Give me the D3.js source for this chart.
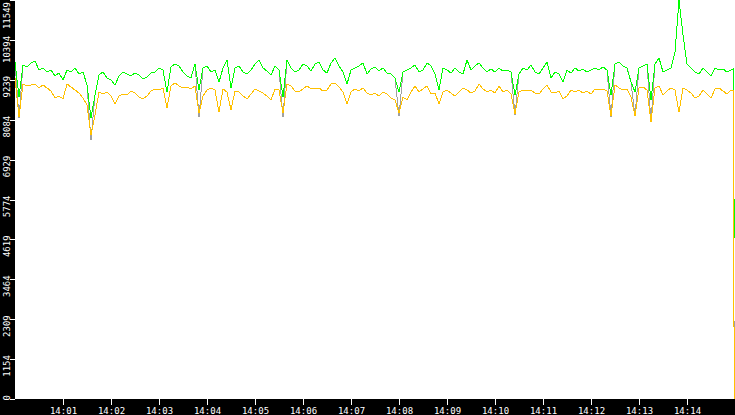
<!DOCTYPE html>
<html>
<head>
<meta charset="utf-8">
<script src="https://cdn.jsdelivr.net/npm/d3@7/dist/d3.min.js"></script>
<style>
  html, body { margin: 0; padding: 0; background: #000; overflow: hidden; }
  svg { display: block; }
  text { font-family: "DejaVu Sans Mono", "Liberation Mono", monospace; font-size: 9px; fill: #fff; }
</style>
</head>
<body>
<script>
// ---- data ----
const startTime = "14:00:00";
const stepSeconds = 5;          // regular sampling step
const regularCount = 180;       // samples at 0,5,...,895 s
const tailSeconds = [898, 899]; // last two samples (final one is the drop)
const yMax = 11549;
const yTickLabels = ["0","1154","2309","3464","4619","5774","6929","8084","9239","10394","11549"];
const xTickLabels = ["14:01","14:02","14:03","14:04","14:05","14:06","14:07","14:08","14:09","14:10","14:11","14:12","14:13","14:14"];

const greenValues = [
9754,8741,9668,9610,9726,9783,9523,9581,9465,9523,9349,9436,9233,9523,9465,9581,9407,9465,9089,8134,
8799,9378,9465,9291,9233,9089,9349,9465,9407,9349,9436,9378,9262,9320,9436,9465,9581,9523,8886,9610,
9697,9639,9465,9349,9291,9697,8944,9581,9639,9465,9523,9176,9581,9812,9002,9581,9639,9465,9407,9523,
9697,9812,9581,9494,9378,9639,9523,8741,9812,9581,9465,9523,9697,9639,9494,9697,9754,9523,9436,9726,
9870,9639,9465,9118,9523,9581,9639,9726,9407,9552,9610,9494,9581,9436,9407,9291,8886,9465,9523,9581,
9668,9465,9523,9726,9639,9407,8944,9581,9523,9436,9581,9465,9407,9812,9523,9639,9726,9581,9465,9552,
9465,9581,9494,9523,9465,8799,9407,9581,9523,9668,9465,9407,9581,9754,9291,9465,9407,9176,9523,9436,
9581,9494,9552,9465,9523,9581,9523,9610,9523,8799,9697,9754,9639,9581,9176,8886,9581,9639,9697,8655,
9697,9870,9465,9523,9581,10044,11549,10536,9697,9581,9465,9407,9581,9465,9349,9581,9523,9552,9465,9523,
9552,4660];

const yellowValues = [
9291,8162,9118,9060,9089,9118,9002,9089,9002,8915,8712,8770,8684,9118,9031,8944,8857,8712,8510,7641,
8220,8886,8828,8886,8770,8539,8770,8828,8799,8915,8857,8741,8684,8770,8915,8973,8944,9002,8423,9060,
9147,9060,9002,9031,8973,9060,8278,8770,8944,9002,8944,8307,8973,8886,8365,8915,8886,8770,8684,8828,
8973,8915,8857,8770,8655,8973,8944,8278,9118,9060,8915,8886,8973,9060,8973,8973,9002,8915,8944,9118,
9147,9031,8886,8539,8886,8973,8915,9002,8857,8799,8857,8770,8886,8828,8712,8655,8278,8741,8655,8886,
9060,8886,8973,9060,8828,8857,8539,8886,8944,8857,8770,8886,9002,8944,8857,8915,9118,8973,8886,8944,
8857,9060,8886,8944,8828,8249,8886,8944,8915,8944,8857,8828,8973,9089,8886,8857,8915,8684,8770,8944,
8886,8944,8857,8915,8828,8973,8944,8973,8915,8191,9089,9002,8944,8973,8741,8191,9002,9031,8944,8018,
9002,9060,8799,8915,9002,8944,8307,9002,8944,8857,8712,8770,8944,8828,8712,8973,9002,8915,8828,8944,
8915,0];

const grayValues = [
9754,8134,9668,9610,9726,9783,9523,9581,9465,9523,9349,9436,9233,9523,9465,9581,9407,9465,9089,7497,
8799,9378,9465,9291,9233,9089,9349,9465,9407,9349,9436,9378,9262,9320,9436,9465,9581,9523,8886,9610,
9697,9639,9465,9349,9291,9697,8162,9581,9639,9465,9523,9176,9581,9812,9002,9581,9639,9465,9407,9523,
9697,9812,9581,9494,9378,9639,9523,8162,9812,9581,9465,9523,9697,9639,9494,9697,9754,9523,9436,9726,
9870,9639,9465,9118,9523,9581,9639,9726,9407,9552,9610,9494,9581,9436,9407,9291,8191,9465,9523,9581,
9668,9465,9523,9726,9639,9407,8944,9581,9523,9436,9581,9465,9407,9812,9523,9639,9726,9581,9465,9552,
9465,9581,9494,9523,9465,8220,9407,9581,9523,9668,9465,9407,9581,9754,9291,9465,9407,9176,9523,9436,
9581,9494,9552,9465,9523,9581,9523,9610,9523,8162,9697,9754,9639,9581,9176,8191,9581,9639,9697,8018,
9697,9870,9465,9523,9581,10044,11549,10536,9697,9581,9465,9407,9581,9465,9349,9581,9523,9552,9465,9523,
9552,0];

// ---- chart ----
const W = 735, H = 415;
const plotLeft = 15, plotBottom = 399;

const parseHMS = d3.timeParse("%H:%M:%S");
const parseHM = d3.timeParse("%H:%M");
const t0 = parseHMS(startTime);
const sampleSeconds = d3.range(regularCount).map(i => i * stepSeconds).concat(tailSeconds);
const times = sampleSeconds.map(s => d3.timeSecond.offset(t0, s));
const tEnd = d3.timeMinute.offset(t0, 15);

const x = d3.scaleTime().domain([t0, tEnd]).range([plotLeft, 735]);
const y = d3.scaleLinear().domain([0, yMax]).range([plotBottom, 0]);

const svg = d3.select("body").append("svg").attr("width", W).attr("height", H);

svg.append("rect").attr("x", 0).attr("y", 0).attr("width", W).attr("height", H).attr("fill", "#000");
svg.append("rect").attr("x", plotLeft).attr("y", 0).attr("width", W - plotLeft).attr("height", plotBottom).attr("fill", "#fff");

const line = d3.line().x((d, i) => x(times[i])).y(d => y(d));

const series = [
  { values: grayValues, color: "#a0a0a0" },
  { values: greenValues, color: "#00ff00" },
  { values: yellowValues, color: "#ffc000" }
];
svg.append("g").selectAll("path").data(series).join("path")
  .attr("d", d => line(d.values))
  .attr("fill", "none")
  .attr("stroke", d => d.color)
  .attr("stroke-width", 1)
  .attr("shape-rendering", "crispEdges");

// x axis
const xTicks = xTickLabels.map(s => parseHM(s));
const xAxis = d3.axisBottom(x).tickValues(xTicks).tickFormat((d, i) => xTickLabels[i]).tickSize(6).tickSizeOuter(0);
const gx = svg.append("g").attr("transform", `translate(0,${plotBottom})`).call(xAxis);
gx.select(".domain").remove();
gx.selectAll(".tick line").attr("stroke", "#fff").attr("shape-rendering", "crispEdges");
gx.selectAll(".tick text").attr("fill", "#fff").attr("y", 14.5).attr("dy", 0)
  .style("font-family", "DejaVu Sans Mono").style("font-size", "9px");

// y axis
const yTickVals = yTickLabels.map((_, i) => yMax * i / (yTickLabels.length - 1));
const gy = svg.append("g");
gy.selectAll("line").data(yTickVals).join("line")
  .attr("x1", 10).attr("x2", plotLeft)
  .attr("y1", d => Math.round(y(d)) + 0.5).attr("y2", d => Math.round(y(d)) + 0.5)
  .attr("stroke", "#fff").attr("shape-rendering", "crispEdges");
gy.selectAll("text").data(yTickVals).join("text")
  .attr("transform", d => `translate(9.5,${Math.max(2, y(d) - 4)}) rotate(-90)`)
  .attr("text-anchor", "end")
  .text((d, i) => yTickLabels[i]);
</script>
</body>
</html>
